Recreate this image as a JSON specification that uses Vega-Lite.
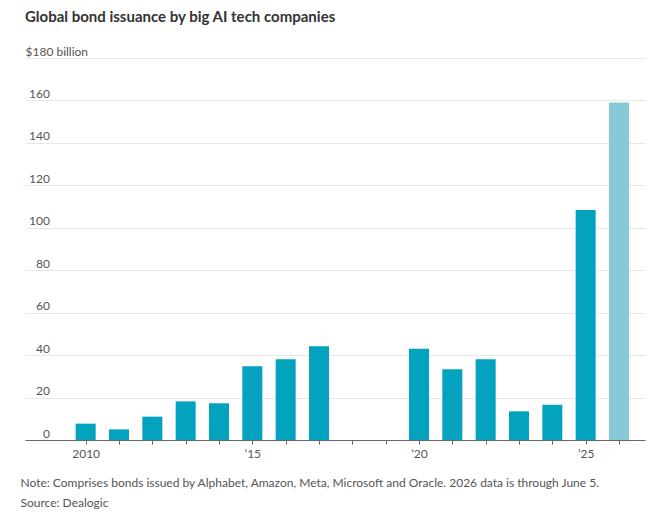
{
  "$schema": "https://vega.github.io/schema/vega-lite/v6.json",
  "width": 620,
  "height": 382,
  "autosize": {"type": "none"},
  "padding": {"left": 25, "top": 58, "right": 7, "bottom": 90},
  "background": "white",
  "title": {
    "text": "Global bond issuance by big AI tech companies",
    "anchor": "start",
    "frame": "group",
    "font": "Lato",
    "fontSize": 15,
    "fontWeight": "bold",
    "color": "#333333",
    "offset": 20
  },
  "data": {
    "values": [
      {"year": 2010, "value": 7.7, "status": "full"},
      {"year": 2011, "value": 5.0, "status": "full"},
      {"year": 2012, "value": 11.0, "status": "full"},
      {"year": 2013, "value": 18.2, "status": "full"},
      {"year": 2014, "value": 17.3, "status": "full"},
      {"year": 2015, "value": 34.7, "status": "full"},
      {"year": 2016, "value": 38.0, "status": "full"},
      {"year": 2017, "value": 44.2, "status": "full"},
      {"year": 2020, "value": 43.0, "status": "full"},
      {"year": 2021, "value": 33.3, "status": "full"},
      {"year": 2022, "value": 38.0, "status": "full"},
      {"year": 2023, "value": 13.5, "status": "full"},
      {"year": 2024, "value": 16.6, "status": "full"},
      {"year": 2025, "value": 108.4, "status": "full"},
      {"year": 2026, "value": 159.0, "status": "partial"}
    ]
  },
  "mark": {"type": "bar", "width": 20},
  "encoding": {
    "x": {
      "field": "year",
      "type": "quantitative",
      "scale": {"domain": [2008.33, 2026.63], "nice": false, "zero": false},
      "axis": {
        "values": [2010, 2011, 2012, 2013, 2014, 2015, 2016, 2017, 2018, 2019, 2020, 2021, 2022, 2023, 2024, 2025, 2026],
        "format": "d",
        "labelExpr": "datum.value == 2010 ? '2010' : (datum.value % 5 == 0 ? '’' + substring(datum.label, 2, 4) : '')",
        "grid": false,
        "domainColor": "#666666",
        "tickColor": "#666666",
        "tickSize": 4,
        "labelPadding": 4,
        "labelFont": "Lato",
        "labelFontSize": 12,
        "labelColor": "#555555",
        "labelFlush": false,
        "labelOverlap": false,
        "title": ["Note: Comprises bonds issued by Alphabet, Amazon, Meta, Microsoft and Oracle. 2026 data is through June 5.", "Source: Dealogic"],
        "titleAnchor": "start",
        "titleAlign": "left",
        "titleX": -5,
        "titleY": 46,
        "titleBaseline": "alphabetic",
        "titleLineHeight": 20,
        "titleFont": "Lato",
        "titleFontSize": 12,
        "titleFontWeight": "normal",
        "titleColor": "#555555"
      }
    },
    "y": {
      "field": "value",
      "type": "quantitative",
      "scale": {"domain": [0, 180], "nice": false},
      "axis": {
        "values": [0, 20, 40, 60, 80, 100, 120, 140, 160, 180],
        "labelExpr": "datum.value == 180 ? '$180 billion' : datum.label",
        "domain": false,
        "ticks": false,
        "gridColor": "#e8e8e8",
        "labelAlign": {"condition": {"test": "datum.value == 180", "value": "left"}, "value": "right"},
        "labelPadding": {"condition": {"test": "datum.value == 180", "value": 0}, "value": -24.5},
        "labelBaseline": "alphabetic",
        "labelOffset": -3,
        "labelFont": "Lato",
        "labelFontSize": 12,
        "labelColor": "#555555",
        "title": null
      }
    },
    "color": {
      "field": "status",
      "type": "nominal",
      "scale": {"domain": ["full", "partial"], "range": ["#03a3bf", "#88c9d8"]},
      "legend": null
    }
  },
  "config": {"view": {"stroke": null}}
}
